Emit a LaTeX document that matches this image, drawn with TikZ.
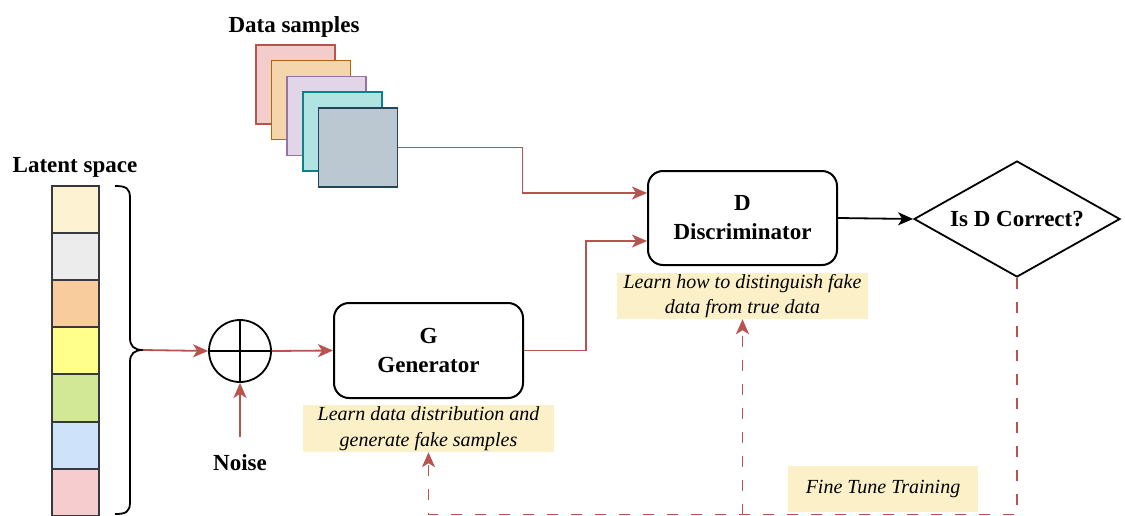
\documentclass[tikz,border=0pt]{standalone}
\usepackage{fontspec}
\setmainfont{Liberation Serif}
\usetikzlibrary{arrows.meta,shapes.geometric}
\definecolor{redline}{HTML}{B85450}
\definecolor{cellstroke}{HTML}{36393D}
\definecolor{notefill}{HTML}{FBF0C8}
\tikzset{
  boldlab/.style={font=\fontsize{23}{28}\selectfont\bfseries},
  notelab/.style={fill=notefill, draw=none, inner sep=0pt, align=center, font=\fontsize{20}{25.5}\selectfont\itshape},
  cell/.style={draw=cellstroke, line width=1.6pt, minimum width=47pt, minimum height=47pt, inner sep=0pt},
  sample/.style={line width=1.8pt, minimum width=79pt, minimum height=79pt, inner sep=0pt},
  procbox/.style={draw=black, line width=2pt, rounded corners=15pt, minimum width=189pt, minimum height=94pt, inner sep=0pt, align=center, font=\fontsize{23}{29}\selectfont\bfseries},
  tipstyle/.style={-{Stealth[length=15pt, width=13pt, inset=4pt]}},
  redarrow/.style={draw=redline, line width=1.8pt, tipstyle},
  blackarrow/.style={draw=black, line width=1.8pt, tipstyle},
  dasharrow/.style={draw=redline, line width=1.8pt, dash pattern=on 11pt off 13pt, tipstyle},
}
\begin{document}
\begin{tikzpicture}[x=1pt, y=-1pt]
\useasboundingbox[fill=white] (0,0) rectangle (1125,515);

% Titles
\node[boldlab, anchor=base] (dstitle) at (294,32) {Data samples};
\node[boldlab, anchor=base] (lstitle) at (75,172) {Latent space};

% Data sample stack
\node[sample, fill={rgb,255:red,243;green,205;blue,204}, draw={rgb,255:red,184;green,84;blue,80}] (ds1) at (295.5,84.5) {};
\node[sample, fill={rgb,255:red,245;green,214;blue,172}, draw={rgb,255:red,180;green,101;blue,4}] (ds2) at (311,100) {};
\node[sample, fill={rgb,255:red,225;green,213;blue,231}, draw={rgb,255:red,150;green,115;blue,166}] (ds3) at (326.5,116) {};
\node[sample, fill={rgb,255:red,176;green,227;blue,226}, draw={rgb,255:red,14;green,128;blue,136}] (ds4) at (342.5,131.5) {};
\node[sample, fill={rgb,255:red,188;green,200;blue,209}, draw={rgb,255:red,35;green,68;blue,93}] (ds5) at (358,147.5) {};

% Latent space cells
\node[cell, fill={rgb,255:red,253;green,242;blue,210}] (l1) at (75.5,209.5) {};
\node[cell, fill={rgb,255:red,236;green,236;blue,236}] (l2) at (75.5,256.5) {};
\node[cell, fill={rgb,255:red,248;green,204;blue,156}] (l3) at (75.5,303.5) {};
\node[cell, fill={rgb,255:red,255;green,255;blue,140}] (l4) at (75.5,350.5) {};
\node[cell, fill={rgb,255:red,211;green,232;blue,150}] (l5) at (75.5,398) {};
\node[cell, fill={rgb,255:red,206;green,226;blue,250}] (l6) at (75.5,445.5) {};
\node[cell, fill={rgb,255:red,246;green,204;blue,206}] (l7) at (75.5,492.5) {};

% Brace
\coordinate (brtip) at (143,350);
\draw[line width=1.8pt, line join=round] (115,186) .. controls (126,186) and (130,188) .. (130,198) -- (130,338)
  .. controls (130,346) and (134,350) .. (brtip)
  .. controls (134,350) and (130,354) .. (130,362) -- (130,502)
  .. controls (130,512) and (126,514) .. (115,514);

% Sum node
\node[draw=black, line width=1.8pt, circle, minimum size=62pt, inner sep=0pt] (sum) at (240,351) {};
\draw[line width=1.8pt] (sum.north) -- (sum.south);
\draw[line width=1.8pt] (sum.west) -- (sum.east);

\node[boldlab, anchor=base] (noise) at (240,470) {Noise};
\coordinate (nz) at (240,437);

% Generator and discriminator
\node[procbox, minimum height=95pt] (G) at (428.5,350.5) {G\\Generator};
\node[procbox] (D) at (742.5,218) {D\\Discriminator};

% Decision
\node[draw=black, line width=1.8pt, diamond, aspect=1.776, minimum width=206pt, minimum height=116pt, inner sep=0pt, font=\fontsize{23}{28}\selectfont\bfseries] (Q) at (1017,219) {Is D Correct?};

% Notes
\node[notelab, minimum width=251pt, minimum height=47pt] (GL) at (428.5,428.5) {Learn data distribution and\\generate fake samples};
\node[notelab, minimum width=251pt, minimum height=46pt] (DL) at (742.5,296) {Learn how to distinguish fake\\data from true data};
\node[notelab, minimum width=190pt, minimum height=46pt] (FT) at (883,489) {Fine Tune Training};

% Connectors
\draw[redarrow] (brtip) -- (sum.west);
\draw[redarrow] (sum.east) -- (G.west);
\draw[redarrow] (nz) -- (sum.south);
\draw[redarrow] (ds5.east) -- ++(124,0) |- ([yshift=25pt]D.west);
\draw[redarrow] (G.east) -- ++(62,0) |- ([yshift=-23pt]D.west);
\draw[blackarrow] (D.east) -- (Q.west);

\coordinate (qb) at (1017,514.5);
\draw[dasharrow] (Q.south) -- (qb) -| (GL.south);
\draw[dasharrow] (DL.south |- qb) -- (DL.south);
\end{tikzpicture}
\end{document}
